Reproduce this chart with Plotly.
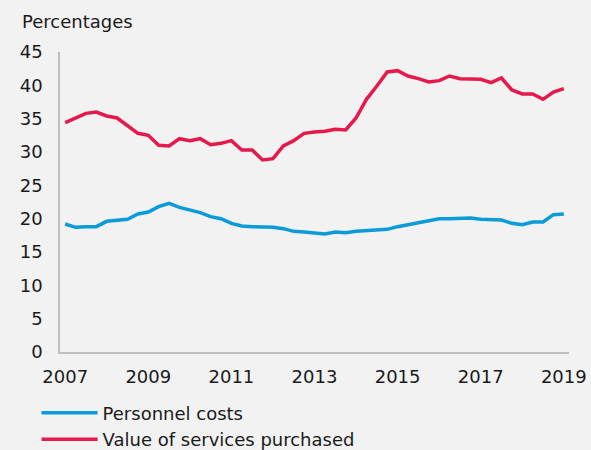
import plotly.graph_objects as go

quarters = [f"{y}Q{q}" for y in range(2007, 2020) for q in range(1, 5)][:49]
tick_labels = ["2007", "2009", "2011", "2013", "2015", "2017", "2019"]

personnel_costs = [
    19.2, 18.7, 18.8, 18.8, 19.6, 19.8, 19.9, 20.7, 21.0, 21.8, 22.3, 21.7,
    21.3, 20.9, 20.3, 20.0, 19.3, 18.9, 18.8, 18.8, 18.7, 18.5, 18.1, 18.0,
    17.8, 17.7, 18.0, 17.9, 18.1, 18.2, 18.3, 18.4, 18.8, 19.1, 19.5, 19.8,
    20.0, 20.0, 20.1, 20.1, 19.9, 19.8, 19.8, 19.3, 19.1, 19.5, 19.5, 20.6,
    20.7,
]
services_purchased = [
    34.4, 35.1, 35.8, 36.0, 35.4, 35.1, 34.0, 32.8, 32.5, 31.0, 30.9, 32.0,
    31.7, 32.0, 31.1, 31.3, 31.7, 30.3, 30.3, 28.8, 29.0, 30.9, 31.7, 32.8,
    33.0, 33.1, 33.4, 33.3, 35.1, 37.9, 39.9, 42.0, 42.2, 41.4, 41.0, 40.5,
    40.7, 41.4, 41.0, 41.0, 40.9, 40.4, 41.1, 39.3, 38.7, 38.7, 37.9, 39.0,
    39.5,
]

idx = list(range(len(quarters)))
FONT = "DejaVu Sans"
FS = 18

fig = go.Figure()
fig.add_trace(go.Scatter(x=idx, y=personnel_costs, mode="lines", name="Personnel costs",
                         line=dict(color="#0a9bd8", width=3.5)))
fig.add_trace(go.Scatter(x=idx, y=services_purchased, mode="lines", name="Value of services purchased",
                         line=dict(color="#e5194b", width=3.5)))

fig.update_layout(
    width=591, height=450, autosize=False,
    paper_bgcolor="#f2f2f2", plot_bgcolor="#f2f2f2",
    margin=dict(l=60, r=22, t=52, b=98, autoexpand=False),
    font=dict(family=FONT, size=FS, color="#1a1a1a"),
    showlegend=True,
    legend=dict(orientation="v", x=-0.046, xanchor="left", y=-0.142, yanchor="top",
                bgcolor="rgba(0,0,0,0)", itemwidth=56, tracegroupgap=0,
                font=dict(family=FONT, size=FS)),
    xaxis=dict(range=[-0.5, 48.5], tickmode="array",
               tickvals=[0, 8, 16, 24, 32, 40, 48], ticktext=tick_labels,
               showgrid=False, zeroline=False, showline=True, linecolor="#bfbfbf",
               linewidth=1.5, ticks="", ticklabelstandoff=8, automargin=False),
    yaxis=dict(range=[0, 45], tickvals=list(range(0, 50, 5)), showgrid=False,
               zeroline=False, showline=True, linecolor="#bfbfbf", linewidth=1.5,
               ticks="", ticklabelstandoff=12, automargin=False),
    annotations=[dict(text="Percentages", xref="paper", yref="paper", x=-0.079, y=1.1,
                      xanchor="left", yanchor="middle", showarrow=False,
                      font=dict(family=FONT, size=FS))],
)

fig.write_html(
    "out.html",
    config={"responsive": False, "displayModeBar": False},
    post_script="document.body.style.margin='0';document.body.style.background='#f2f2f2';",
)
